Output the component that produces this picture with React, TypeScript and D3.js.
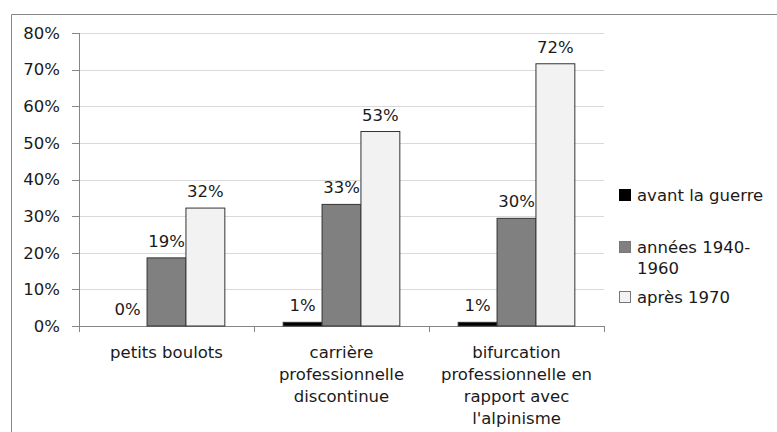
import React from "react";
import * as d3 from "d3";

const categories: string[][] = [
  ["petits boulots"],
  ["carrière", "professionnelle", "discontinue"],
  ["bifurcation", "professionnelle en", "rapport avec", "l'alpinisme"],
];
const seriesNames: string[][] = [["avant la guerre"], ["années 1940-", "1960"], ["après 1970"]];
const avantGuerre = [0, 1, 1];
const annees4060 = [18.6, 33.2, 29.4];
const apres1970 = [32.2, 53.1, 71.6];
const labels = [
  ["0%", "19%", "32%"],
  ["1%", "33%", "53%"],
  ["1%", "30%", "72%"],
];
const yTicks = [0, 10, 20, 30, 40, 50, 60, 70, 80];
const colors = ["#000000", "#808080", "#f2f2f2"];

export default function App() {
  const W = 777, H = 432;
  const left = 79, right = 604, top = 33, bottom = 326;
  const font = "'DejaVu Sans', Verdana, sans-serif";
  const fs = 16.5;
  const y = d3.scaleLinear().domain([0, 80]).range([bottom, top]);
  const x0 = d3.scaleBand<number>().domain([0, 1, 2]).range([left, right]);
  const x1 = d3.scaleBand<number>().domain([0, 1, 2]).range([0, x0.bandwidth()]).paddingOuter(0.75).paddingInner(0);
  const series = [avantGuerre, annees4060, apres1970];
  const textColor = "#1a1a1a";
  return (
    <svg width={W} height={H} style={{ position: "absolute", left: 0, top: 0 }} fontFamily={font}>
      <rect x={0} y={0} width={W} height={H} fill="#fff" />
      <path d={`M11.5,${H} V14.5 H${W}`} fill="none" stroke="#888" strokeWidth={1} />
      {yTicks.map((t) => (
        <g key={t}>
          {t > 0 && <line x1={left} x2={right} y1={Math.round(y(t)) + 0.5} y2={Math.round(y(t)) + 0.5} stroke="#d9d9d9" />}
          <line x1={left - 7} x2={left} y1={Math.round(y(t)) + 0.5} y2={Math.round(y(t)) + 0.5} stroke="#868686" />
          <text x={60} y={y(t)} dy="0.35em" textAnchor="end" fontSize={fs} fill={textColor}>{t}%</text>
        </g>
      ))}
      <line x1={left + 0.5} x2={left + 0.5} y1={top} y2={bottom} stroke="#868686" />
      <line x1={left} x2={right} y1={bottom + 0.5} y2={bottom + 0.5} stroke="#868686" />
      {[0, 1, 2, 3].map((i) => {
        const xx = Math.round(left + i * x0.bandwidth()) + 0.5;
        return <line key={i} x1={xx} x2={xx} y1={bottom} y2={bottom + 6} stroke="#868686" />;
      })}
      {categories.map((_, ci) => (
        <g key={ci} transform={`translate(${x0(ci)},0)`}>
          {series.map((s, si) => {
            const v = s[ci];
            const bx = x1(si)!;
            const bw = x1.bandwidth();
            return (
              <g key={si}>
                {v > 0 && (
                  <rect x={bx} y={y(v)} width={bw} height={bottom - y(v)} fill={colors[si]} stroke="#333" strokeWidth={1} />
                )}
                <text x={bx + bw / 2} y={y(v) - 11} textAnchor="middle" fontSize={fs} fill={textColor}>{labels[ci][si]}</text>
              </g>
            );
          })}
          {categories[ci].map((line, li) => (
            <text key={li} x={x0.bandwidth() / 2} y={352 + li * 22} dy="0.35em" textAnchor="middle" fontSize={fs} fill={textColor}>{line}</text>
          ))}
        </g>
      ))}
      {seriesNames.map((lines, i) => {
        const ys = [195, 247, 297][i];
        return (
          <g key={i}>
            <rect x={619.5} y={ys - 5.5} width={11} height={11} fill={colors[i]} stroke={i === 0 ? "#000" : "#777"} />
            {lines.map((l, li) => (
              <text key={li} x={637} y={ys + li * 21} dy="0.35em" fontSize={fs} fill={textColor}>{l}</text>
            ))}
          </g>
        );
      })}
    </svg>
  );
}
